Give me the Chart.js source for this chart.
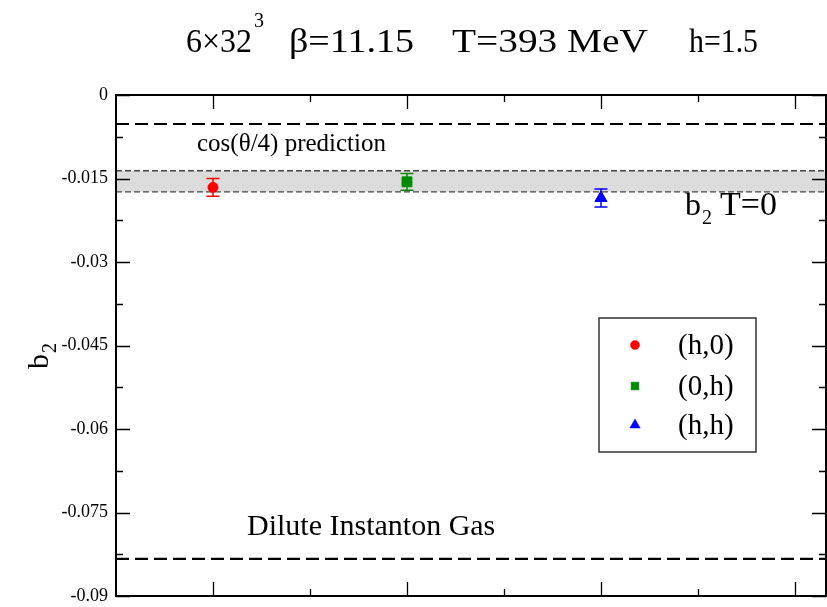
<!DOCTYPE html>
<html>
<head>
<meta charset="utf-8">
<script src="https://cdn.jsdelivr.net/npm/chart.js@4.4.1/dist/chart.umd.min.js"></script>
<style>
  html, body { margin: 0; padding: 0; background: #fff; }
  #wrap { width: 827px; height: 607px; }
</style>
</head>
<body>
<div id="wrap"><canvas id="c" width="827" height="607"></canvas></div>
<script>
// b2 from the three imaginary-theta directions
var labels = ['(h,0)', '(0,h)', '(h,h)'];
var xPos = [1, 2, 3];
var b2 = [-0.0166, -0.0156, -0.0185];
var b2Err = [0.0016, 0.0015, 0.0016];
var colors = ['#ff0000', '#008b00', '#0000ff'];
var markers = ['circle', 'rect', 'triangle'];
var markerSize = [5, 7, 7];

// zero temperature band, and the two model predictions
var bandLow = -0.0174;
var bandHigh = -0.0136;
var cosPred = -1 / 192;
var digPred = -1 / 12;

var xMin = 0.5, xMax = 4.16;
var yMin = -0.09, yMax = 0;
var yStep = 0.015;
var xMajor = [1, 2, 3, 4];
var xMinor = [1.5, 2.5, 3.5];

var serif = '"Liberation Serif", "DejaVu Serif", serif';

function hline(y, color, dash, width, fill) {
  return {
    type: 'line',
    data: [{x: xMin, y: y}, {x: xMax, y: y}],
    borderColor: color, borderDash: dash, borderWidth: width,
    pointRadius: 0, fill: fill || false,
    backgroundColor: '#dcdcdc'
  };
}

var datasets = labels.map(function (l, i) {
  return {
    type: 'scatter',
    label: l,
    data: [{x: xPos[i], y: b2[i]}],
    pointStyle: markers[i],
    pointRadius: markerSize[i],
    pointBackgroundColor: colors[i],
    pointBorderColor: colors[i],
    pointBorderWidth: 1
  };
});
datasets.push(hline(cosPred, '#000', [13, 6], 2.2));
datasets.push(hline(digPred, '#000', [13, 6], 2.2));
datasets.push(hline(bandLow, '#444', [6, 3], 1.4));
datasets.push(hline(bandHigh, '#444', [6, 3], 1.4, '-1'));

function withSub(ctx, x, y, main, sub, size, subSize, drop) {
  ctx.font = size + 'px ' + serif;
  ctx.fillText(main, x, y);
  var w = ctx.measureText(main).width;
  ctx.font = subSize + 'px ' + serif;
  ctx.fillText(sub, x + w + 1, y + drop);
  return x + w + 1 + ctx.measureText(sub).width;
}

// text squeezed or widened to span x0..x1
function fitText(ctx, s, x0, x1, y) {
  var w = ctx.measureText(s).width;
  ctx.save();
  ctx.translate(x0, y);
  ctx.scale((x1 - x0) / w, 1);
  ctx.fillText(s, 0, 0);
  ctx.restore();
}

var inwardTicks = {
  id: 'inwardTicks',
  afterDraw: function (chart) {
    var ctx = chart.ctx, a = chart.chartArea;
    var xs = chart.scales.x, ys = chart.scales.y;
    ctx.save();
    ctx.strokeStyle = '#000';
    ctx.lineWidth = 1.3;
    ctx.beginPath();
    xMajor.concat(xMinor).forEach(function (v, i) {
      var len = i < xMajor.length ? 14 : 7;
      var px = Math.round(xs.getPixelForValue(v)) + 0.5;
      ctx.moveTo(px, a.bottom); ctx.lineTo(px, a.bottom - len);
      ctx.moveTo(px, a.top); ctx.lineTo(px, a.top + len);
    });
    for (var k = 0; k <= Math.round((yMax - yMin) / (yStep / 2)); k++) {
      var v = yMin + k * yStep / 2;
      var len = k % 2 === 0 ? 14 : 7;
      var py = Math.round(ys.getPixelForValue(v)) + 0.5;
      ctx.moveTo(a.left, py); ctx.lineTo(a.left + len, py);
      ctx.moveTo(a.right, py); ctx.lineTo(a.right - len, py);
    }
    ctx.stroke();
    // frame
    ctx.lineWidth = 2;
    ctx.strokeRect(a.left, a.top, a.right - a.left, a.bottom - a.top);
    ctx.restore();
  }
};

var errorBars = {
  id: 'errorBars',
  afterDatasetsDraw: function (chart) {
    var ctx = chart.ctx, xs = chart.scales.x, ys = chart.scales.y;
    ctx.save();
    ctx.lineWidth = 1.5;
    xPos.forEach(function (xv, i) {
      var px = xs.getPixelForValue(xv);
      var top = ys.getPixelForValue(b2[i] + b2Err[i]);
      var bot = ys.getPixelForValue(b2[i] - b2Err[i]);
      ctx.strokeStyle = colors[i];
      ctx.beginPath();
      ctx.moveTo(px, top); ctx.lineTo(px, bot);
      ctx.moveTo(px - 6.5, top); ctx.lineTo(px + 6.5, top);
      ctx.moveTo(px - 6.5, bot); ctx.lineTo(px + 6.5, bot);
      ctx.stroke();
    });
    ctx.restore();
  }
};

var texts = {
  id: 'texts',
  afterDraw: function (chart) {
    var ctx = chart.ctx;
    ctx.save();
    ctx.fillStyle = '#000';
    ctx.textBaseline = 'alphabetic';
    ctx.textAlign = 'left';

    // title
    ctx.font = '33px ' + serif;
    fitText(ctx, '6\u00d732', 186, 252, 52);
    fitText(ctx, '\u03b2=11.15', 289, 414, 52);
    fitText(ctx, 'T=393 MeV', 452, 648, 52);
    fitText(ctx, 'h=1.5', 689, 758, 52);
    ctx.font = '20px ' + serif;
    ctx.fillText('3', 254, 27);

    // y axis title, rotated
    ctx.save();
    ctx.translate(48, 369);
    ctx.rotate(-Math.PI / 2);
    withSub(ctx, 0, 0, 'b', '2', 30, 20, 8);
    ctx.restore();

    // annotations
    ctx.font = '25px ' + serif;
    ctx.fillText('cos(\u03b8/4) prediction', 197, 151);
    var e = withSub(ctx, 685, 215, 'b', '2', 32, 20, 9);
    ctx.font = '34px ' + serif;
    ctx.fillText('T=0', e + 8, 215);
    ctx.font = '30px ' + serif;
    ctx.fillText('Dilute Instanton Gas', 247, 535);

    // legend
    var lx = 599, ly = 318, lw = 157, lh = 134;
    ctx.fillStyle = '#fff';
    ctx.fillRect(lx, ly, lw, lh);
    ctx.strokeStyle = '#333';
    ctx.lineWidth = 1.5;
    ctx.strokeRect(lx, ly, lw, lh);
    var rows = [345, 386, 425];
    var lsize = [4.5, 5.5, 6];
    labels.forEach(function (l, i) {
      ctx.fillStyle = colors[i];
      ctx.strokeStyle = colors[i];
      ctx.lineWidth = 0.5;
      Chart.helpers.drawPoint(ctx, {
        pointStyle: markers[i], radius: lsize[i], borderWidth: 0.5
      }, 635, rows[i]);
      ctx.fillStyle = '#000';
      ctx.font = '29px ' + serif;
      ctx.textBaseline = 'middle';
      ctx.fillText(l, 678, rows[i] + 1);
    });
    ctx.restore();
  }
};

new Chart(document.getElementById('c'), {
  data: { datasets: datasets },
  options: {
    responsive: false,
    animation: false,
    layout: { autoPadding: false, padding: { top: 95, right: 1, bottom: 11, left: 0 } },
    plugins: { legend: { display: false }, tooltip: { enabled: false } },
    scales: {
      x: {
        type: 'linear', min: xMin, max: xMax,
        ticks: { display: false },
        grid: { display: false },
        border: { display: false },
        afterFit: function (s) { s.height = 0; s.paddingLeft = 0; s.paddingRight = 0; }
      },
      y: {
        type: 'linear', min: yMin, max: yMax,
        ticks: {
          stepSize: yStep,
          color: '#000',
          padding: 8,
          font: { family: serif, size: 18 },
          callback: function (v) { return String(Number(v.toFixed(4))); }
        },
        grid: { display: false, drawTicks: false },
        border: { display: false },
        afterFit: function (s) { s.width = 116; s.paddingTop = 0; s.paddingBottom = 0; }
      }
    }
  },
  plugins: [errorBars, inwardTicks, texts]
});
</script>
</body>
</html>
